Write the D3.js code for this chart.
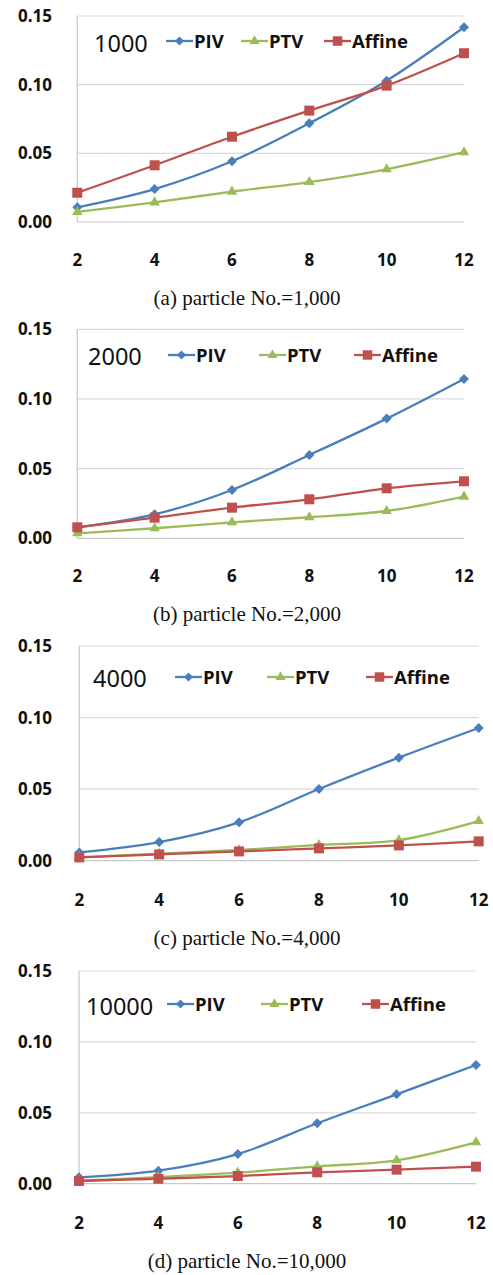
<!DOCTYPE html>
<html><head><meta charset="utf-8">
<script src="https://cdn.jsdelivr.net/npm/d3@7"></script>
<style>html,body{margin:0;padding:0;background:#fff;}svg{display:block;}</style>
</head><body>
<svg id="c" width="493" height="1275"></svg>
<script>
const xValues = [2, 4, 6, 8, 10, 12];
const yTicks = [0, 0.05, 0.10, 0.15];
const seriesNames = ["PIV", "PTV", "Affine"];
const panelTitles = ["1000", "2000", "4000", "10000"];
const captions = ["(a) particle No.=1,000", "(b) particle No.=2,000", "(c) particle No.=4,000", "(d) particle No.=10,000"];

const piv1000 = [0.0107, 0.0240, 0.0442, 0.0719, 0.1029, 0.1418];
const ptv1000 = [0.0073, 0.0143, 0.0221, 0.0291, 0.0384, 0.0508];
const aff1000 = [0.0213, 0.0413, 0.0621, 0.0811, 0.0993, 0.1229];

const piv2000 = [0.0079, 0.0172, 0.0347, 0.0598, 0.0859, 0.1144];
const ptv2000 = [0.0036, 0.0072, 0.0115, 0.0151, 0.0196, 0.0299];
const aff2000 = [0.0079, 0.0148, 0.0220, 0.0280, 0.0359, 0.0409];

const piv4000 = [0.0058, 0.0130, 0.0268, 0.0501, 0.0720, 0.0927];
const ptv4000 = [0.0023, 0.0049, 0.0075, 0.0110, 0.0144, 0.0277];
const aff4000 = [0.0023, 0.0044, 0.0065, 0.0086, 0.0107, 0.0135];

const piv10000 = [0.0045, 0.0092, 0.0209, 0.0426, 0.0630, 0.0837];
const ptv10000 = [0.0021, 0.0047, 0.0078, 0.0122, 0.0165, 0.0292];
const aff10000 = [0.0019, 0.0035, 0.0054, 0.0080, 0.0099, 0.0120];

const panelData = [
  [piv1000, ptv1000, aff1000],
  [piv2000, ptv2000, aff2000],
  [piv4000, ptv4000, aff4000],
  [piv10000, ptv10000, aff10000]
];

// layout (positions only)
const layouts = [
  {top:16, bot:222, left:77.3, right:464, xlab:260, cap:298, tx:94, ty:44, lx:[166,241,324], ly:41},
  {top:329.3, bot:538.3, left:77.3, right:464, xlab:576, cap:614, tx:88, ty:357, lx:[168,259,354], ly:355},
  {top:646, bot:860.7, left:79.3, right:478.7, xlab:900, cap:938, tx:93, ty:679, lx:[175,267,366], ly:677},
  {top:971, bot:1183.7, left:79, right:476, xlab:1223, cap:1261, tx:86, ty:1007, lx:[167,261,362], ly:1004}
];
const colors = ["#4A7EBB", "#9BBB59", "#C0504D"];
const symbols = [d3.symbolSquare, d3.symbolTriangle, d3.symbolSquare];
const rotations = [45, 0, 0];
const symSizes = [50, 48, 100];
const legSizes = [40, 44, 90];

const svg = d3.select("#c");
const tickFont = "'Open Sans', 'DejaVu Sans', sans-serif";

panelData.forEach((series, pi) => {
  const L = layouts[pi];
  const g = svg.append("g");
  const x = d3.scaleLinear().domain([2, 12]).range([L.left, L.right]);
  const y = d3.scaleLinear().domain([0, 0.15]).range([L.bot, L.top]);

  // gridlines
  g.selectAll("line.grid").data(yTicks).enter().append("line")
    .attr("x1", L.left).attr("x2", L.right)
    .attr("y1", d => y(d)).attr("y2", d => y(d))
    .attr("stroke", d => d === 0 ? "#c8c8c8" : "#d9d9d9").attr("stroke-width", 1.2);
  // vertical axis line
  g.append("line").attr("x1", L.left).attr("x2", L.left)
    .attr("y1", y(0.15)).attr("y2", y(0)).attr("stroke", "#c8c8c8").attr("stroke-width", 1.2);

  // y tick labels
  g.selectAll("text.yt").data(yTicks).enter().append("text")
    .attr("x", 52).attr("y", d => y(d)).attr("dy", "0.35em")
    .attr("text-anchor", "end").attr("font-family", tickFont)
    .attr("font-weight", "bold").attr("font-size", 17).attr("fill", "#111")
    .text(d => d3.format(".2f")(d));
  // x tick labels
  g.selectAll("text.xt").data(xValues).enter().append("text")
    .attr("x", d => x(d)).attr("y", L.xlab).attr("dy", "0.35em")
    .attr("text-anchor", "middle").attr("font-family", tickFont)
    .attr("font-weight", "bold").attr("font-size", 17).attr("fill", "#111")
    .text(d => d);

  // lines
  const line = d3.line().x((d, i) => x(xValues[i])).y(d => y(d)).curve(d3.curveCatmullRom.alpha(0.5));
  series.forEach((vals, si) => {
    g.append("path").attr("d", line(vals)).attr("fill", "none")
      .attr("stroke", colors[si]).attr("stroke-width", 2.3);
  });
  series.forEach((vals, si) => {
    g.selectAll(null).data(vals).enter().append("path")
      .attr("d", d3.symbol().type(symbols[si]).size(symSizes[si]))
      .attr("transform", (d, i) => `translate(${x(xValues[i])},${y(d)}) rotate(${rotations[si]})`)
      .attr("fill", colors[si]);
  });

  // legend title
  g.append("text").attr("x", L.tx).attr("y", L.ty).attr("dy", "0.35em")
    .attr("font-family", "'Noto Sans', 'Open Sans', sans-serif").attr("font-size", 23.5)
    .attr("fill", "#111").text(panelTitles[pi]);
  // legend entries
  seriesNames.forEach((name, si) => {
    const lx = L.lx[si];
    g.append("line").attr("x1", lx).attr("x2", lx + 27).attr("y1", L.ly).attr("y2", L.ly)
      .attr("stroke", colors[si]).attr("stroke-width", 2.3);
    g.append("path").attr("d", d3.symbol().type(symbols[si]).size(legSizes[si])())
      .attr("transform", `translate(${lx + 13.5},${L.ly}) rotate(${rotations[si]})`).attr("fill", colors[si]);
    g.append("text").attr("x", lx + 28).attr("y", L.ly).attr("dy", "0.36em")
      .attr("font-family", tickFont).attr("font-weight", "bold").attr("font-size", 18.5)
      .attr("fill", "#111").text(name);
  });

  // caption
  svg.append("text").attr("x", 247).attr("y", L.cap).attr("dy", "0.35em")
    .attr("text-anchor", "middle").attr("font-family", "'Liberation Serif', 'Times New Roman', serif")
    .attr("font-size", 21).attr("fill", "#111").text(captions[pi]);
});
</script>
</body></html>
